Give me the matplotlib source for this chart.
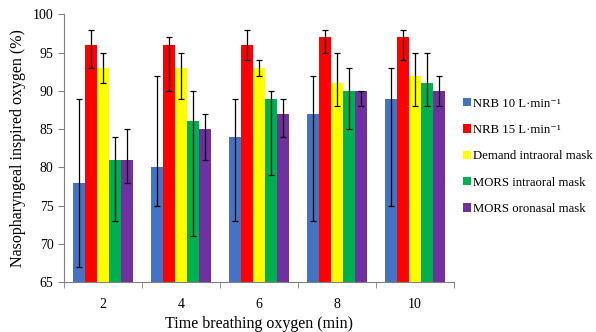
import matplotlib
matplotlib.use("Agg")
import matplotlib.pyplot as plt
import numpy as np

plt.rcParams['font.family'] = ['Liberation Serif', 'DejaVu Serif']

times = ["2", "4", "6", "8", "10"]
series = ["NRB 10 L\u00b7min\u207b\u00b9", "NRB 15 L\u00b7min\u207b\u00b9", "Demand intraoral mask",
          "MORS intraoral mask", "MORS oronasal mask"]
colors = ["#4472C4", "#FF0000", "#FFFF00", "#00B050", "#7030A0"]

nrb10 = [78, 80, 84, 87, 89]
nrb15 = [96, 96, 96, 97, 97]
demand = [93, 93, 93, 91, 92]
mors_intra = [81, 86, 89, 90, 91]
mors_oro = [81, 85, 87, 90, 90]

nrb10_lo = [67, 75, 73, 73, 75]
nrb10_hi = [89, 92, 89, 92, 93]
nrb15_lo = [93, 90, 94, 95, 94]
nrb15_hi = [98, 97, 98, 98, 98]
demand_lo = [91, 89, 92, 88, 88]
demand_hi = [95, 95, 94, 95, 95]
mors_intra_lo = [73, 71, 79, 85, 88]
mors_intra_hi = [84, 90, 90, 93, 95]
mors_oro_lo = [78, 81, 84, 88, 88]
mors_oro_hi = [85, 87, 89, 90, 92]

values = [nrb10, nrb15, demand, mors_intra, mors_oro]
lows = [nrb10_lo, nrb15_lo, demand_lo, mors_intra_lo, mors_oro_lo]
highs = [nrb10_hi, nrb15_hi, demand_hi, mors_intra_hi, mors_oro_hi]

fig = plt.figure(figsize=(5.96, 3.32), dpi=100)
ax = fig.add_axes([0.1074, 0.1497, 0.6543, 0.8073])

n = len(series)
group_w = 0.78
bw = group_w / n
x = np.arange(len(times)) + 0.5
for i in range(n):
    xs = x - group_w / 2 + bw * (i + 0.5)
    v = np.array(values[i])
    lo = v - np.array(lows[i])
    hi = np.array(highs[i]) - v
    ax.bar(xs, v - 65, bottom=65, width=bw, color=colors[i], label=series[i],
           edgecolor='none', zorder=2)
    ax.errorbar(xs, v, yerr=[lo, hi], fmt='none', ecolor='black', elinewidth=0.9,
                capsize=2, capthick=0.9, zorder=3)

ax.set_xlim(0, len(times))
ax.set_ylim(65, 100)
ax.set_yticks(np.arange(65, 101, 5))
ax.set_xticks(x)
ax.set_xticklabels(times)
ax.set_xticks(np.arange(0, len(times) + 1), minor=True)
ax.tick_params(axis='x', which='major', length=0, labelsize=10, pad=11)
ax.tick_params(axis='x', which='minor', length=4, color='#808080', direction='out')
ax.tick_params(axis='y', length=4, color='#808080', labelsize=10, direction='out')
for s in ['top', 'right']:
    ax.spines[s].set_visible(False)
for s in ['left', 'bottom']:
    ax.spines[s].set_color('#808080')
    ax.spines[s].set_linewidth(0.8)

ax.set_xlabel("Time breathing oxygen (min)", fontsize=11.5, labelpad=4)
ax.set_ylabel("Nasopharyngeal inspired oxygen (%)", fontsize=11.5, labelpad=5)

leg = ax.legend(loc='center left', bbox_to_anchor=(1.0, 0.47), frameon=False,
                fontsize=9.2, handlelength=0.6, handleheight=0.6, handletextpad=0.15,
                labelspacing=1.12, borderaxespad=0.3)

fig.savefig("out.png", dpi=100)
